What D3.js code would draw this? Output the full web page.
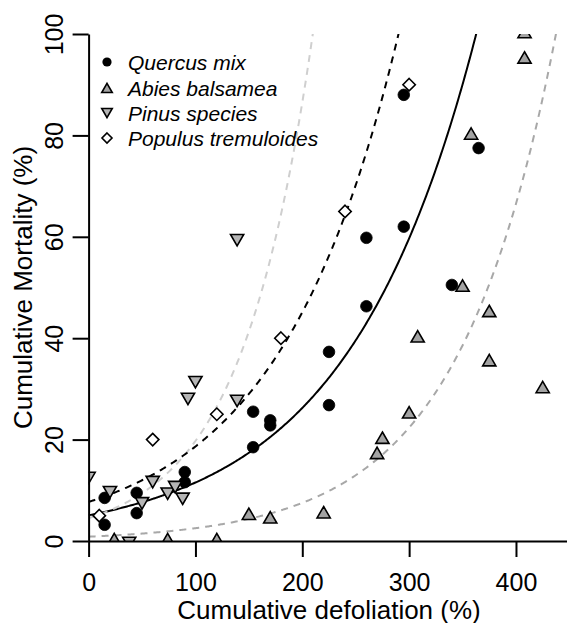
<!DOCTYPE html>
<html><head><meta charset="utf-8">
<script src="https://cdn.jsdelivr.net/npm/d3@7"></script>
<style>
html,body{margin:0;padding:0;background:#fff;}
svg{display:block;font-family:"Liberation Sans",Arial,Helvetica,sans-serif;}
</style></head>
<body>
<svg id="chart" width="567" height="623"></svg>
<script>
// ---- data ----
const quercusX = [15, 15, 45, 45, 90, 90, 154, 154, 170, 170, 225, 225, 260, 260, 295, 295, 340, 365];
const quercusY = [8.5, 3.2, 9.5, 5.5, 13.6, 11.6, 25.5, 18.5, 23.8, 22.8, 37.3, 26.8, 59.8, 46.3, 88, 62, 50.5, 77.5];

const abiesX = [24, 74, 120, 150, 170, 220, 270, 275, 300, 308, 350, 358, 375, 375, 408, 408, 425];
const abiesY = [0, 0, 0, 5, 4.3, 5.3, 17, 20, 25, 40, 50, 80, 45, 35.3, 100, 95, 30];

const pinusX = [0, 20, 38, 50, 60, 74, 81, 88, 93, 100, 139, 139];
const pinusY = [12.8, 10, 0, 7.8, 12, 9.7, 11, 8.7, 28.4, 31.7, 59.7, 28];

const populusX = [10, 60, 120, 180, 240, 300];
const populusY = [5, 20, 25, 40, 65, 90];

// fitted exponential curves y = a * exp(b * x), one per species
const fitSpecies = ["Quercus mix", "Abies balsamea", "Pinus species", "Populus tremuloides"];
const fitA = [5.07, 0.85, 4.5, 7.7];
const fitB = [0.00822, 0.0109, 0.01478, 0.00884];

const legendLabels = ["Quercus mix", "Abies balsamea", "Pinus species", "Populus tremuloides"];
const xTicks = [0, 100, 200, 300, 400];
const yTicks = [0, 20, 40, 60, 80, 100];

// ---- layout ----
const svg = d3.select("#chart");
const x = d3.scaleLinear().domain([0, 450]).range([88.6, 569.4]);
const y = d3.scaleLinear().domain([0, 100]).range([541, 34]);

const lineStyles = [
  {stroke: "#000000", dash: null},
  {stroke: "#a8a8a8", dash: "7,6"},
  {stroke: "#cfcfcf", dash: "7,6"},
  {stroke: "#000000", dash: "7,6"}
];

svg.append("defs").append("clipPath").attr("id", "plotclip")
  .append("rect")
  .attr("x", x(0)).attr("y", y(100))
  .attr("width", x(450) - x(0)).attr("height", y(0) - y(100));

const plot = svg.append("g").attr("clip-path", "url(#plotclip)");

// curves
const xs = d3.range(0, 451, 1);
fitA.forEach((a, i) => {
  const b = fitB[i];
  const pts = xs.map(v => [v, a * Math.exp(b * v)]).filter(p => p[1] <= 130);
  plot.append("path")
    .datum(pts)
    .attr("fill", "none")
    .attr("stroke", lineStyles[i].stroke)
    .attr("stroke-width", 2)
    .attr("stroke-dasharray", lineStyles[i].dash)
    .attr("d", d3.line().x(d => x(d[0])).y(d => y(d[1])));
});

// symbol helpers (R-like pch shapes)
function upTri(R) {
  const r = 1.555 * R, xc = 1.3468 * R, yc = 0.7776 * R;
  return `M0,${-r}L${xc},${yc}L${-xc},${yc}Z`;
}
function downTri(R) {
  const r = 1.555 * R, xc = 1.3468 * R, yc = 0.7776 * R;
  return `M0,${r}L${xc},${-yc}L${-xc},${-yc}Z`;
}
function diamond(h) {
  return `M0,${-h}L${h},0L0,${h}L${-h},0Z`;
}

// Quercus circles
plot.selectAll(".q").data(d3.zip(quercusX, quercusY)).join("circle")
  .attr("cx", d => x(d[0])).attr("cy", d => y(d[1]))
  .attr("r", 5.8).attr("fill", "#000").attr("stroke", "#000").attr("stroke-width", 0.8);

// Abies up-triangles
plot.selectAll(".a").data(d3.zip(abiesX, abiesY)).join("path")
  .attr("transform", d => `translate(${x(d[0])},${y(d[1])})`)
  .attr("d", upTri(4.9))
  .attr("fill", "#a3a3a3").attr("stroke", "#000").attr("stroke-width", 1.6)
  .attr("stroke-linejoin", "miter");

// Pinus down-triangles
plot.selectAll(".p").data(d3.zip(pinusX, pinusY)).join("path")
  .attr("transform", d => `translate(${x(d[0])},${y(d[1])})`)
  .attr("d", downTri(4.9))
  .attr("fill", "#b5b5b5").attr("stroke", "#000").attr("stroke-width", 1.6);

// Populus diamonds
plot.selectAll(".d").data(d3.zip(populusX, populusY)).join("path")
  .attr("transform", d => `translate(${x(d[0])},${y(d[1])})`)
  .attr("d", diamond(6.2))
  .attr("fill", "#fff").attr("stroke", "#000").attr("stroke-width", 1.6);

// axes
const fontSize = 25;
const xAxis = svg.append("g").attr("transform", `translate(0,${y(0)})`)
  .call(d3.axisBottom(x).tickValues(xTicks).tickSize(16).tickSizeOuter(0).tickFormat(d3.format("d")));
xAxis.select(".domain").attr("stroke-width", 2);
xAxis.selectAll(".tick line").attr("stroke-width", 2);
xAxis.selectAll(".tick text")
  .attr("y", 50).attr("dy", 0)
  .attr("font-size", fontSize).attr("font-family", "Liberation Sans, Arial, sans-serif").attr("fill", "#000");

const yAxis = svg.append("g").attr("transform", `translate(${x(0)},0)`)
  .call(d3.axisLeft(y).tickValues(yTicks).tickSize(16).tickSizeOuter(0).tickFormat(d3.format("d")));
yAxis.select(".domain").attr("stroke-width", 2);
yAxis.selectAll(".tick line").attr("stroke-width", 2);
yAxis.selectAll(".tick text")
  .attr("x", 0).attr("y", -26).attr("dy", 0)
  .attr("transform", "rotate(-90)")
  .attr("text-anchor", "middle")
  .attr("font-size", fontSize).attr("font-family", "Liberation Sans, Arial, sans-serif").attr("fill", "#000");

// axis titles
svg.append("text")
  .attr("x", 329).attr("y", 618.5)
  .attr("text-anchor", "middle").attr("font-size", 26)
  .text("Cumulative defoliation (%)");
svg.append("text")
  .attr("transform", `translate(32,${(y(0) + y(100)) / 2}) rotate(-90)`)
  .attr("text-anchor", "middle").attr("font-size", 26)
  .text("Cumulative Mortality (%)");

// legend
const legY = [62, 88, 113, 138];
const leg = svg.append("g");
legendLabels.forEach((lab, i) => {
  const g = leg.append("g").attr("transform", `translate(107,${legY[i]})`);
  if (i === 0) g.append("circle").attr("r", 4.6).attr("fill", "#000");
  if (i === 1) g.append("path").attr("d", upTri(3.9)).attr("transform", "translate(0,1.5)")
    .attr("fill", "#a3a3a3").attr("stroke", "#000").attr("stroke-width", 1.6);
  if (i === 2) g.append("path").attr("d", downTri(3.9)).attr("transform", "translate(0,-1.5)")
    .attr("fill", "#b5b5b5").attr("stroke", "#000").attr("stroke-width", 1.6);
  if (i === 3) g.append("path").attr("d", diamond(5))
    .attr("fill", "#fff").attr("stroke", "#000").attr("stroke-width", 1.6);
  g.append("text").attr("x", 21).attr("y", 7.5)
    .attr("font-size", 21).attr("font-style", "italic").text(lab);
});
</script>
</body></html>
